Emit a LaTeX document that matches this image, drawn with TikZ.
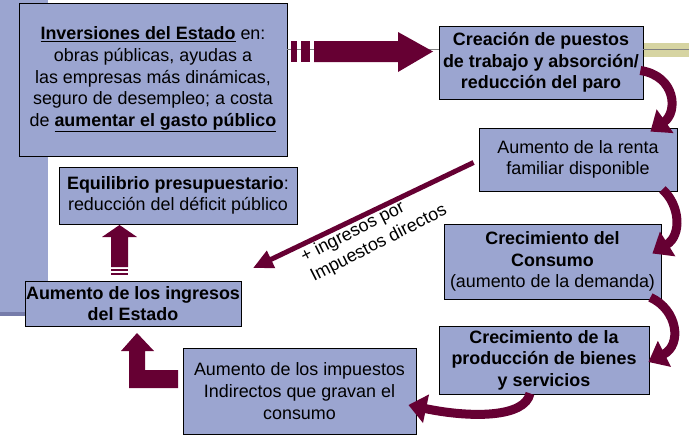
\documentclass[tikz,border=0pt]{standalone}
\usepackage{fontspec}
\setmainfont{Liberation Sans}
\usetikzlibrary{arrows.meta,calc}
\definecolor{boxc}{RGB}{155,165,208}
\definecolor{arrc}{RGB}{102,0,51}
\definecolor{olivec}{RGB}{214,212,162}
\definecolor{shadec}{RGB}{118,124,170}
\begin{document}
\begin{tikzpicture}[x=1pt,y=-1pt,
  box/.style={draw=black,line width=0.8pt,fill=boxc,align=center,inner xsep=1pt,inner ysep=0pt,
    font=\fontsize{17.9}{21.6}\selectfont},
  boldbox/.style={box,font=\fontsize{17.9}{21.6}\selectfont\bfseries},
  blockarr/.style={fill=arrc},
  curvarr/.style={draw=arrc,line width=9pt,-{Triangle[length=18pt,width=28pt]}},
  diagarr/.style={draw=arrc,line width=5pt,-{Triangle[length=20pt,width=18pt]}},
  guide/.style={draw=gray,line width=0.8pt},
  lab/.style={font=\fontsize{17.9}{21.6}\selectfont,align=left,inner sep=0pt}]
\useasboundingbox (0,0) rectangle (689,439);
% slide background
\fill[boxc] (0,0) rectangle (48,315);
\fill[shadec] (0,312) rectangle (48,316);
\fill[olivec] (643,43) rectangle (689,57);
\coordinate (gy) at (0,49);
% boxes
\node[box,minimum width=268pt,minimum height=153pt] (b1) at (153,79.5)
  {\underline{\textbf{Inversiones del Estado}} en:\\ obras públicas, ayudas a\\ las empresas más dinámicas,\\ seguro de desempleo; a costa\\ de \underline{\textbf{aumentar el gasto público}}};
\node[boldbox,minimum width=204pt,minimum height=73pt] (b2) at (541,62.5)
  {Creación de puestos\\de trabajo y absorción/\\reducción del paro};
\node[box,minimum width=198pt,minimum height=63pt] (b3) at (578,159.5)
  {Aumento de la renta\\familiar disponible};
\node[box,minimum width=217pt,minimum height=75pt] (b4) at (552.5,261.5)
  {\textbf{Crecimiento del}\\\textbf{Consumo}\\(aumento de la demanda)};
\node[boldbox,minimum width=210pt,minimum height=68pt] (b5) at (544,360)
  {Crecimiento de la\\producción de bienes\\y servicios};
\node[box,minimum width=233pt,minimum height=86pt] (b6) at (299.5,391)
  {Aumento de los impuestos\\Indirectos que gravan el\\consumo};
\node[box,minimum width=238pt,minimum height=57pt] (b7) at (178,195.5)
  {\textbf{Equilibrio presupuestario}:\\reducción del déficit público};
\node[boldbox,minimum width=216pt,minimum height=45pt] (b8) at (133,303.5)
  {Aumento de los ingresos\\del Estado};
% thin guide line
\draw[guide] (b1.east |- gy) -- (b2.west |- gy);
\draw[guide] (b2.east |- gy) -- (689,49);
% striped right arrow b1 -> b2
\fill[blockarr] (291,41) rectangle (297,62);
\fill[blockarr] (301,41) rectangle (310,62);
\fill[blockarr] (314,41) -- (398,41) -- (398,32) -- (433,51.5) -- (398,72) -- (398,62) -- (314,62) -- cycle;
% striped up arrow b8 -> b7
\fill[blockarr] (111,267) -- (111,237) -- (102,237) -- (119.5,225) -- (137,237) -- (128,237) -- (128,267) -- cycle;
\fill[blockarr] (111,268.5) rectangle (128,270.5);
\fill[blockarr] (111,272.5) rectangle (128,274.5);
% bent-up arrow b6 -> b8
\fill[blockarr] (129,388) -- (178,388) -- (178,370) -- (145,370) -- (145,351) -- (154,351) -- (137,333) -- (121,351) -- (129,351) -- cycle;
% diagonal arrow b3 -> toward b8
\coordinate (dend) at (253,268);
\draw[diagarr] ($(b3.west)+(-5,3)$) -- (dend);
\node[lab,rotate=27] (dl) at (374,234) {+ ingresos por\\Impuestos directos};
% curved arrows
\draw[curvarr] ($(b2.east)+(-3,8)$) .. controls (676,76) and (678,112) .. ($(b3.north east)+(-27,4)$);
\draw[curvarr] ($(b3.south east)+(-15,-2)$) .. controls (680,205) and (682,235) .. ($(b4.east)+(-9,-8)$);
\draw[curvarr] ($(b4.south east)+(-11,-2)$) .. controls (678,310) and (682,345) .. ($(b5.east)+(-1,2)$);
\draw[curvarr] ($(b5.south)+(-14,-1)$) .. controls (525,418) and (470,418) .. ($(b6.east)+(-8,14)$);
\end{tikzpicture}
\end{document}
